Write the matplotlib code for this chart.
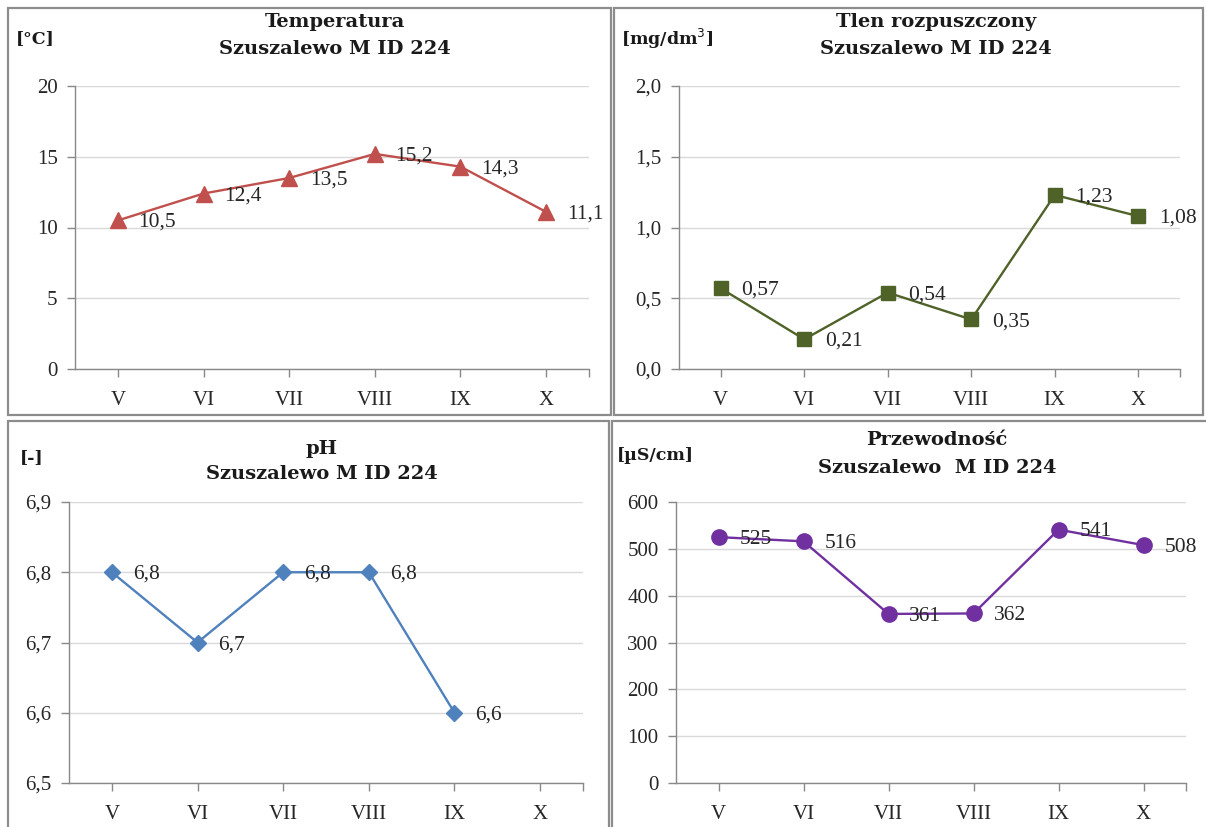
import numpy as np
import matplotlib
matplotlib.use("Agg")
import matplotlib.pyplot as plt
from matplotlib.patches import Rectangle

months = ['V', 'VI', 'VII', 'VIII', 'IX', 'X']
temperature = [10.5, 12.4, 13.5, 15.2, 14.3, 11.1]
oxygen = [0.57, 0.21, 0.54, 0.35, 1.23, 1.08]
ph = [6.8, 6.7, 6.8, 6.8, 6.6, np.nan]
conductivity = [525, 516, 361, 362, 541, 508]

W, H = 1206, 827
plt.rcParams['font.family'] = ['Liberation Serif', 'DejaVu Serif']
TITLE_FONT = ['DejaVu Serif']
fig = plt.figure(figsize=(W / 100, H / 100), dpi=100)

def fig_rect(x0, y0, x1, y1):
    return [x0 / W, 1 - y1 / H, (x1 - x0) / W, (y1 - y0) / H]

# panel borders
for (x0, y0, x1, y1) in [(8, 8, 611, 415), (614, 8, 1203, 415),
                         (8, 421, 609, 830), (612, 421, 1210, 830)]:
    fig.patches.append(Rectangle((x0 / W, 1 - y1 / H), (x1 - x0) / W, (y1 - y0) / H,
                                 transform=fig.transFigure, fill=False,
                                 edgecolor='#8C8C8C', linewidth=1.6))

def panel(rect, values, yticks, ylabels, fmt, color, marker, ms,
          title, unit, unit_xy, title_xy):
    ax = fig.add_axes(fig_rect(*rect))
    x = np.arange(len(months))
    ax.plot(x, values, color=color, lw=1.7, marker=marker, ms=ms,
            markerfacecolor=color, markeredgecolor=color, zorder=3, clip_on=False)
    for xi, v in zip(x, values):
        if np.isnan(v):
            continue
        ax.annotate(fmt(v), (xi, v), xytext=(15, -1.5), textcoords='offset points',
                    ha='left', va='center', fontsize=15.5, color='#262626', zorder=4)
    ax.set_xlim(-0.5, len(months) - 0.5)
    ax.set_ylim(yticks[0], yticks[-1])
    ax.set_yticks(yticks)
    ax.set_yticklabels(ylabels, fontsize=15, color='#262626')
    ax.set_xticks(x)
    ax.set_xticklabels(months, fontsize=15, color='#262626')
    ax.set_xticks([len(months) - 0.5], minor=True)
    ax.tick_params(axis='x', which='both', length=5.5, width=1, color='#898989',
                   direction='out', pad=10)
    ax.tick_params(axis='y', length=5.5, width=1, color='#898989', direction='out', pad=7)
    for s in ['top', 'right']:
        ax.spines[s].set_visible(False)
    for s in ['left', 'bottom']:
        ax.spines[s].set_color('#898989')
        ax.spines[s].set_linewidth(1)
    ax.grid(axis='y', color='#D9D9D9', lw=1)
    ax.set_axisbelow(True)
    fig.text(title_xy[0] / W, 1 - title_xy[1] / H, title, family=TITLE_FONT,
             ha='center', va='center', fontsize=14, fontweight='bold', color='#1a1a1a')
    fig.text(unit_xy[0] / W, 1 - unit_xy[1] / H, unit, family=TITLE_FONT,
             ha='left', va='center', fontsize=12.5, fontweight='bold', color='#1a1a1a')
    return ax

def sub(cx, y, text):
    fig.text(cx / W, 1 - y / H, text, family=TITLE_FONT, ha='center', va='center',
             fontsize=14, fontweight='bold', color='#1a1a1a')

panel((75, 86, 589, 369), temperature, [0, 5, 10, 15, 20],
      ['0', '5', '10', '15', '20'],
      lambda v: f"{v:.1f}".replace('.', ','), '#C0504D', '^', 11,
      'Temperatura', '[°C]', (16, 39), (335, 22))
sub(335, 49, 'Szuszalewo M ID 224')

panel((679, 86, 1180, 369), oxygen, [0, 0.5, 1.0, 1.5, 2.0],
      ['0,0', '0,5', '1,0', '1,5', '2,0'],
      lambda v: f"{v:.2f}".replace('.', ','), '#4F6228', 's', 10,
      'Tlen rozpuszczony', '[mg/dm$^3$]', (621, 39), (936, 22))
sub(936, 49, 'Szuszalewo M ID 224')

panel((69, 502, 583, 783), ph, [6.5, 6.6, 6.7, 6.8, 6.9],
      ['6,5', '6,6', '6,7', '6,8', '6,9'],
      lambda v: f"{v:.1f}".replace('.', ','), '#4F81BD', 'D', 8,
      'pH', '[-]', (20, 458), (322, 449))
sub(322, 474, 'Szuszalewo M ID 224')

panel((676, 502, 1186, 783), conductivity, [0, 100, 200, 300, 400, 500, 600],
      ['0', '100', '200', '300', '400', '500', '600'],
      lambda v: f"{v:.0f}", '#7030A0', 'o', 11,
      'Przewodność', '[µS/cm]', (617, 455), (937, 440))
sub(937, 468, 'Szuszalewo  M ID 224')

fig.savefig('out.png', dpi=100)
